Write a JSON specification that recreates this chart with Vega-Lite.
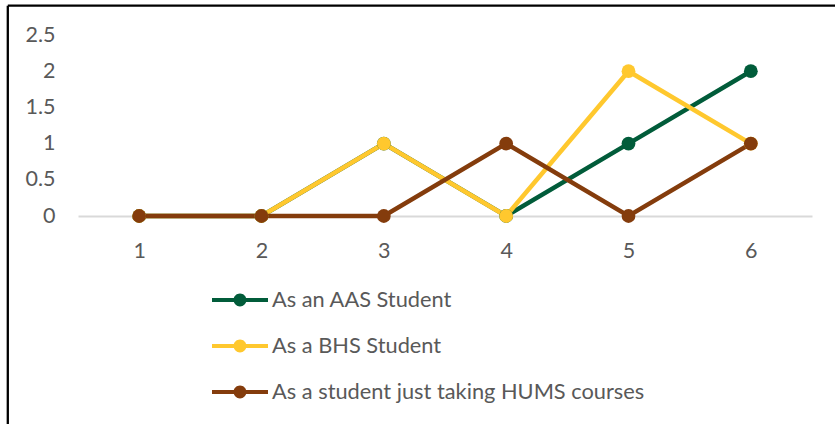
{
  "$schema": "https://vega.github.io/schema/vega-lite/v6.json",
  "width": 734,
  "height": 181,
  "autosize": {"type": "none"},
  "padding": {"left": 78, "top": 35, "right": 23, "bottom": 208},
  "background": "white",
  "config": {
    "view": {"stroke": null},
    "font": "Lato",
    "axis": {"labelOverlap": false, "labelFlush": false, "labelBound": false, "grid": false, "ticks": false, "tickSize": 0, "title": null, "labelColor": "#595959", "labelFontSize": 21.5}
  },
  "data": {
    "values": [
      {"x": 1, "value": 0, "series": "As an AAS Student"},
      {"x": 2, "value": 0, "series": "As an AAS Student"},
      {"x": 3, "value": 1, "series": "As an AAS Student"},
      {"x": 4, "value": 0, "series": "As an AAS Student"},
      {"x": 5, "value": 1, "series": "As an AAS Student"},
      {"x": 6, "value": 2, "series": "As an AAS Student"},
      {"x": 1, "value": 0, "series": "As a BHS Student"},
      {"x": 2, "value": 0, "series": "As a BHS Student"},
      {"x": 3, "value": 1, "series": "As a BHS Student"},
      {"x": 4, "value": 0, "series": "As a BHS Student"},
      {"x": 5, "value": 2, "series": "As a BHS Student"},
      {"x": 6, "value": 1, "series": "As a BHS Student"},
      {"x": 1, "value": 0, "series": "As a student just taking HUMS courses"},
      {"x": 2, "value": 0, "series": "As a student just taking HUMS courses"},
      {"x": 3, "value": 0, "series": "As a student just taking HUMS courses"},
      {"x": 4, "value": 1, "series": "As a student just taking HUMS courses"},
      {"x": 5, "value": 0, "series": "As a student just taking HUMS courses"},
      {"x": 6, "value": 1, "series": "As a student just taking HUMS courses"}
    ]
  },
  "layer": [
    {
      "data": {"values": [{}]},
      "mark": {"type": "rule", "color": "black", "strokeWidth": 2.3},
      "encoding": {
        "x": {"datum": -0.0738, "type": "quantitative",
              "scale": {"domain": [0.5, 6.5], "nice": false, "zero": false},
              "axis": {"values": [1, 2, 3, 4, 5, 6], "labelExpr": "toString(datum.value)", "domainColor": "#D9D9D9", "domainWidth": 2, "labelPadding": 24}},
        "y": {"datum": 2.9047, "type": "quantitative",
              "scale": {"domain": [0, 2.5], "nice": false, "zero": false},
              "axis": {"values": [0, 0.5, 1, 1.5, 2, 2.5], "labelExpr": "toString(datum.value)", "domain": false, "labelPadding": 23}},
        "y2": {"datum": -3.2}
      }
    },
    {
      "data": {"values": [{}]},
      "mark": {"type": "rule", "color": "black", "strokeWidth": 2.3},
      "encoding": {
        "x": {"datum": -0.0738, "type": "quantitative",
              "axis": {"values": [1, 2, 3, 4, 5, 6], "labelExpr": "toString(datum.value)", "domainColor": "#D9D9D9", "domainWidth": 2, "labelPadding": 24}},
        "x2": {"datum": 6.9},
        "y": {"datum": 2.9047, "type": "quantitative",
              "axis": {"values": [0, 0.5, 1, 1.5, 2, 2.5], "labelExpr": "toString(datum.value)", "domain": false, "labelPadding": 23}}
      }
    },
    {
      "mark": {"type": "line", "strokeWidth": 4.5, "point": {"filled": true, "size": 190, "opacity": 1}},
      "encoding": {
        "x": {
          "field": "x", "type": "quantitative",
          "axis": {"values": [1, 2, 3, 4, 5, 6], "labelExpr": "toString(datum.value)", "domainColor": "#D9D9D9", "domainWidth": 2, "labelPadding": 24}
        },
        "y": {
          "field": "value", "type": "quantitative",
          "axis": {"values": [0, 0.5, 1, 1.5, 2, 2.5], "labelExpr": "toString(datum.value)", "domain": false, "labelPadding": 23}
        },
        "color": {
          "field": "series", "type": "nominal",
          "scale": {"domain": ["As an AAS Student", "As a BHS Student", "As a student just taking HUMS courses"],
                    "range": ["#015C3A", "#FFC82E", "#843C0C"]},
          "legend": {
            "orient": "none", "legendX": 134, "legendY": 242, "title": null, "direction": "vertical",
            "symbolType": "M-1,-0.075L1,-0.075L1,0.075L-1,0.075ZM0.23,0A0.23,0.23,0,1,1,-0.23,0A0.23,0.23,0,1,1,0.23,0Z",
            "symbolSize": 3136, "labelFontSize": 21.8, "labelColor": "#595959", "labelOffset": 4, "labelLimit": 600,
            "clipHeight": 46, "rowPadding": 0, "padding": 0,
            "encode": {"symbols": {"update": {"fill": {"scale": "color", "field": "value"}, "stroke": {"value": "transparent"}, "strokeWidth": {"value": 0}, "opacity": {"value": 1}}}}
          }
        }
      }
    }
  ]
}
